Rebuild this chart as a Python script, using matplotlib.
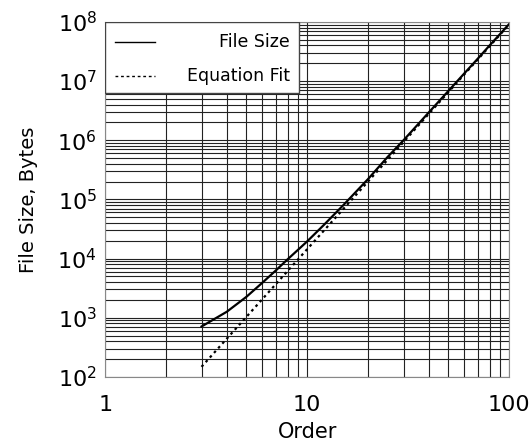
import matplotlib
matplotlib.use('Agg')
import matplotlib.pyplot as plt
from matplotlib.patches import Rectangle
from matplotlib.ticker import NullFormatter

# values
order = [3, 4, 5, 6, 7, 8, 9, 10, 12, 15, 20, 25, 30, 40, 50, 60, 70, 80, 90, 100]
file_size = [710, 1260, 2250, 3900, 6300, 9700, 14000, 19500, 36000, 78000,
             220000, 520000, 1.0e6, 2.95e6, 6.8e6, 1.35e7, 2.4e7, 4.0e7, 6.2e7, 9.2e7]
fit_order = [3, 4, 5, 6, 7, 8, 10, 15, 20, 30, 40, 50, 60, 70, 80, 90, 100]
fit_size = [148, 442, 1030, 2060, 3700, 6150, 14400, 67000, 200000, 933000,
            2.79e6, 6.5e6, 1.3e7, 2.33e7, 3.88e7, 6.07e7, 9.08e7]

fig = plt.figure(figsize=(5.31, 4.46), dpi=100)
ax = fig.add_axes([0.198, 0.155, 0.761, 0.796])

ax.plot(order, file_size, color='black', lw=1.6)
ax.plot(fit_order, fit_size, color='black', lw=1.6, ls=(0, (1.2, 1.6)))

ax.set_xscale('log')
ax.set_yscale('log')
ax.set_xlim(1, 100)
ax.set_ylim(1e2, 1e8)
ax.grid(True, which='both', color='#222222', lw=0.8)
ax.tick_params(which='both', length=0)
ax.tick_params(axis='x', labelsize=16, pad=13)
ax.tick_params(axis='y', labelsize=16, pad=6)
ax.set_xticks([1, 10, 100])
ax.set_xticklabels(['1', '10', '100'])
ax.xaxis.set_minor_formatter(NullFormatter())
ax.yaxis.set_minor_formatter(NullFormatter())
for s in ax.spines.values():
    s.set_color('#888888')

ax.set_xlabel('Order', fontsize=15, labelpad=5)
ax.set_ylabel('File Size, Bytes', fontsize=14, labelpad=14)

# legend drawn by hand so the labels can sit right-aligned
ax.add_patch(Rectangle((0, 0.8), 0.48, 0.2, transform=ax.transAxes,
                       facecolor='white', edgecolor='#444444', lw=1, zorder=5))
ax.plot([0.025, 0.124], [0.944, 0.944], transform=ax.transAxes,
        color='black', lw=1, zorder=6)
ax.plot([0.025, 0.124], [0.848, 0.848], transform=ax.transAxes,
        color='black', lw=1, ls=(0, (2, 2)), zorder=6)
ax.text(0.457, 0.944, 'File Size', transform=ax.transAxes, ha='right',
        va='center', fontsize=12.5, zorder=6)
ax.text(0.457, 0.848, 'Equation Fit', transform=ax.transAxes, ha='right',
        va='center', fontsize=12.5, zorder=6)

fig.savefig('out.png', dpi=100)
